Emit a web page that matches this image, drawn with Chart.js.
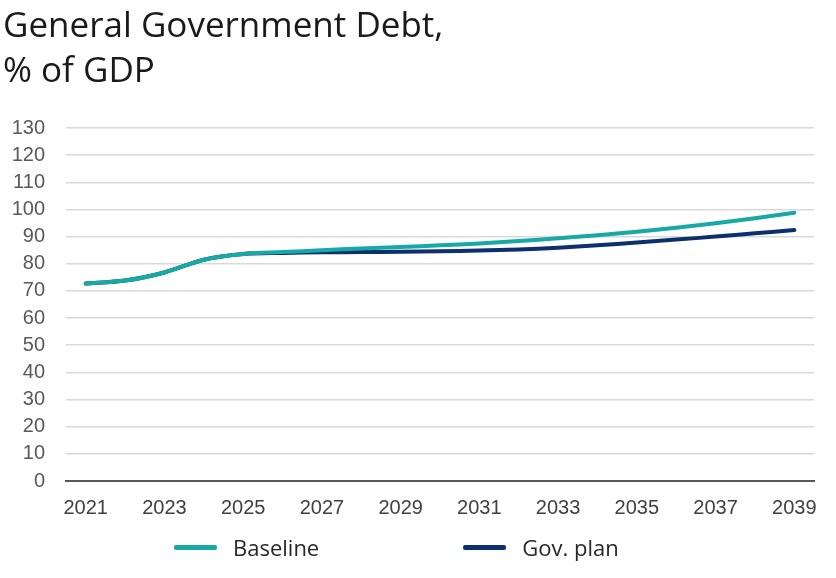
<!DOCTYPE html>
<html lang="en">
<head>
    <meta charset="UTF-8">
    <title>General Government Debt</title>
    <style>
        body {
            margin: 0;
            padding: 0;
            background: #ffffff;
        }
        .chart-container {
            position: relative;
            width: 836px;
            height: 578px;
        }
        /* Legend under the chart */
        #legend {
            position: absolute;
            left: 174px;
            top: 532px;
            display: flex;
            font-family: 'Open Sans', sans-serif;
            font-size: 22px;
            color: #262626;
        }
        #legend .item {
            display: flex;
            align-items: center;
            margin-right: 144px;
        }
        #legend .swatch {
            width: 43px;
            height: 5px;
            border-radius: 2px;
            margin-right: 16px;
        }
    </style>
    <script src="https://cdn.jsdelivr.net/npm/chart.js"></script>
</head>
<body>
    <div class="chart-container">
        <canvas id="debtChart" width="836" height="578"></canvas>
        <div id="legend"></div>
    </div>

    <script>
    const years = ["2021", "2022", "2023", "2024", "2025", "2026", "2027", "2028", "2029", "2030",
                   "2031", "2032", "2033", "2034", "2035", "2036", "2037", "2038", "2039"];

    // General government debt, % of GDP
    const baseline = [72.7, 73.8, 76.8, 81.5, 83.6, 84.3, 85.0, 85.6, 86.2, 86.8,
                      87.5, 88.4, 89.4, 90.5, 91.8, 93.3, 94.9, 96.8, 98.8];
    const govPlan  = [72.7, 73.8, 76.8, 81.5, 83.6, 84.0, 84.2, 84.3, 84.4, 84.6,
                      84.9, 85.3, 85.9, 86.8, 87.8, 88.9, 90.0, 91.2, 92.4];

    const titleLines = ["General Government Debt,", "% of GDP"];

    const chart = new Chart(document.getElementById("debtChart"), {
        type: "line",
        data: {
            labels: years,
            datasets: [
                {
                    label: "Baseline",
                    data: baseline,
                    borderColor: "#17a9a3",
                    borderWidth: 4,
                    pointRadius: 0,
                    tension: 0.3,
                    borderCapStyle: "round"
                },
                {
                    label: "Gov. plan",
                    data: govPlan,
                    borderColor: "#0d2f6e",
                    borderWidth: 4,
                    pointRadius: 0,
                    tension: 0.3,
                    borderCapStyle: "round"
                }
            ]
        },
        options: {
            responsive: false,
            animation: false,
            layout: {
                padding: { left: 3, right: 22, top: 0, bottom: 43 }
            },
            plugins: {
                legend: { display: false },
                tooltip: { enabled: false },
                title: {
                    display: true,
                    text: titleLines,
                    align: "start",
                    color: "#1a1a1a",
                    font: { family: "'Open Sans', sans-serif", size: 35, weight: "normal", lineHeight: 1.3 },
                    padding: { top: 4, bottom: 33 }
                }
            },
            scales: {
                x: {
                    offset: true,
                    grid: { display: false, drawTicks: false },
                    border: { display: true, color: "#595959", width: 2 },
                    ticks: {
                        color: "#404040",
                        font: { family: "'Liberation Sans', Arial, sans-serif", size: 20 },
                        padding: 15,
                        maxRotation: 0,
                        autoSkip: false,
                        callback: function (value, index) {
                            return index % 2 === 0 ? this.getLabelForValue(value) : "";
                        }
                    }
                },
                y: {
                    min: 0,
                    max: 130,
                    afterFit: function (scale) {
                        scale.width = 63;
                    },
                    ticks: {
                        stepSize: 10,
                        autoSkip: false,
                        color: "#595959",
                        font: { family: "'Liberation Sans', Arial, sans-serif", size: 20 },
                        padding: 21
                    },
                    grid: { color: "#d9d9d9", lineWidth: 1.5, drawTicks: false },
                    border: { display: false }
                }
            }
        }
    });

    // simple html legend built from the datasets
    const legend = document.getElementById("legend");
    chart.data.datasets.forEach(function (ds) {
        const item = document.createElement("div");
        item.className = "item";
        item.innerHTML = '<span class="swatch" style="background:' + ds.borderColor + '"></span>' + ds.label;
        legend.appendChild(item);
    });
    </script>
</body>
</html>
